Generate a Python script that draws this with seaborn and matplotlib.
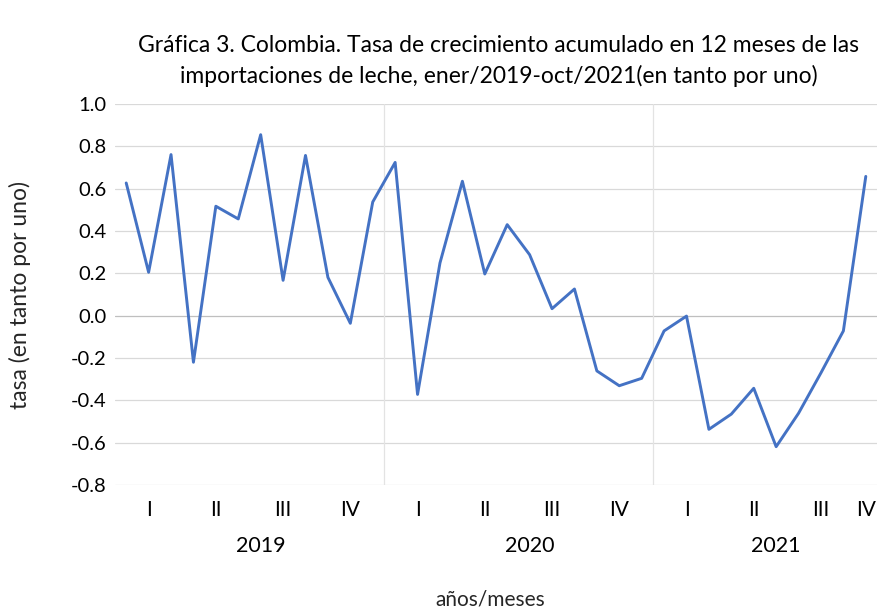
import matplotlib
matplotlib.use("Agg")
import matplotlib.pyplot as plt
import matplotlib.transforms as mtransforms
import seaborn as sns
import pandas as pd
import numpy as np

# ---- data ----
years = [2019] * 12 + [2020] * 12 + [2021] * 10
months = list(range(1, 13)) + list(range(1, 13)) + list(range(1, 11))
tasa = [0.627, 0.205, 0.761, -0.220, 0.517, 0.457, 0.855, 0.167, 0.757, 0.181, -0.036, 0.537,
        0.724, -0.372, 0.249, 0.635, 0.197, 0.430, 0.288, 0.033, 0.126, -0.261, -0.331, -0.296,
        -0.072, -0.002, -0.537, -0.465, -0.343, -0.619, -0.461, -0.270, -0.072, 0.658]
quarter_names = ["I", "II", "III", "IV"]
y_ticks = [-0.8, -0.6, -0.4, -0.2, 0.0, 0.2, 0.4, 0.6, 0.8, 1.0]

title = ("Gráfica 3. Colombia. Tasa de crecimiento acumulado en 12 meses de las\n"
         "importaciones de leche, ener/2019-oct/2021(en tanto por uno)")
ylabel = "tasa (en tanto por uno)"
xlabel = "años/meses"

df = pd.DataFrame({"year": years, "month": months, "tasa": tasa})
df["idx"] = np.arange(len(df))
df["quarter"] = (df["month"] - 1) // 3

sns.set_theme(style="white")
plt.rcParams["font.family"] = ["Lato", "DejaVu Sans"]
plt.rcParams["axes.unicode_minus"] = False

fig = plt.figure(figsize=(8.83, 6.14), dpi=100)
ax = fig.add_axes([115 / 883, 1 - 485 / 614, (877 - 115) / 883, (485 - 104) / 614])

# grid
for yv in y_ticks:
    ax.axhline(yv, color="#d9d9d9" if yv != 0 else "#bfbfbf", lw=0.9, zorder=0)

sns.lineplot(data=df, x="idx", y="tasa", ax=ax, color="#4472C4", linewidth=2.1, zorder=3)

ax.set_xlim(-0.5, len(df) - 0.5)
ax.set_ylim(-0.8, 1.0)
ax.set_yticks(y_ticks)
ax.set_yticklabels([f"{v:.1f}" for v in y_ticks])
for s in ax.spines.values():
    s.set_visible(False)
ax.tick_params(axis="y", length=0, pad=6, labelsize=14.5, labelcolor="#000000")
ax.tick_params(axis="x", length=0, pad=11, labelsize=15, labelcolor="#000000")

# quarter labels
qg = df.groupby(["year", "quarter"])["idx"].mean().reset_index()
ax.set_xticks(qg["idx"].values)
ax.set_xticklabels([quarter_names[q] for q in qg["quarter"]])

# year separators and labels
yg = df.groupby("year")["idx"].agg(["min", "max"]).reset_index()
trans = mtransforms.blended_transform_factory(ax.transData, ax.transAxes)
for i, row in yg.iterrows():
    if i > 0:
        ax.axvline(row["min"] - 0.5, color="#e3e3e3", lw=0.9, zorder=0)
    ax.text((row["min"] + row["max"] + 1) / 2, -0.16, str(row["year"]), transform=trans,
            ha="center", va="center", fontsize=15.5, color="#000000")

ax.set_xlabel("")
ax.set_ylabel("")
fig.text(490 / 883, 1 - 600 / 614, xlabel, ha="center", va="center", fontsize=15)
fig.text(20 / 883, 1 - 295 / 614, ylabel, ha="center", va="center", rotation=90, fontsize=16.5)
fig.text(499 / 883, 1 - 61 / 614, title, ha="center", va="center", fontsize=16.5,
         linespacing=1.5, color="#000000")

fig.savefig("out.png", dpi=100)
